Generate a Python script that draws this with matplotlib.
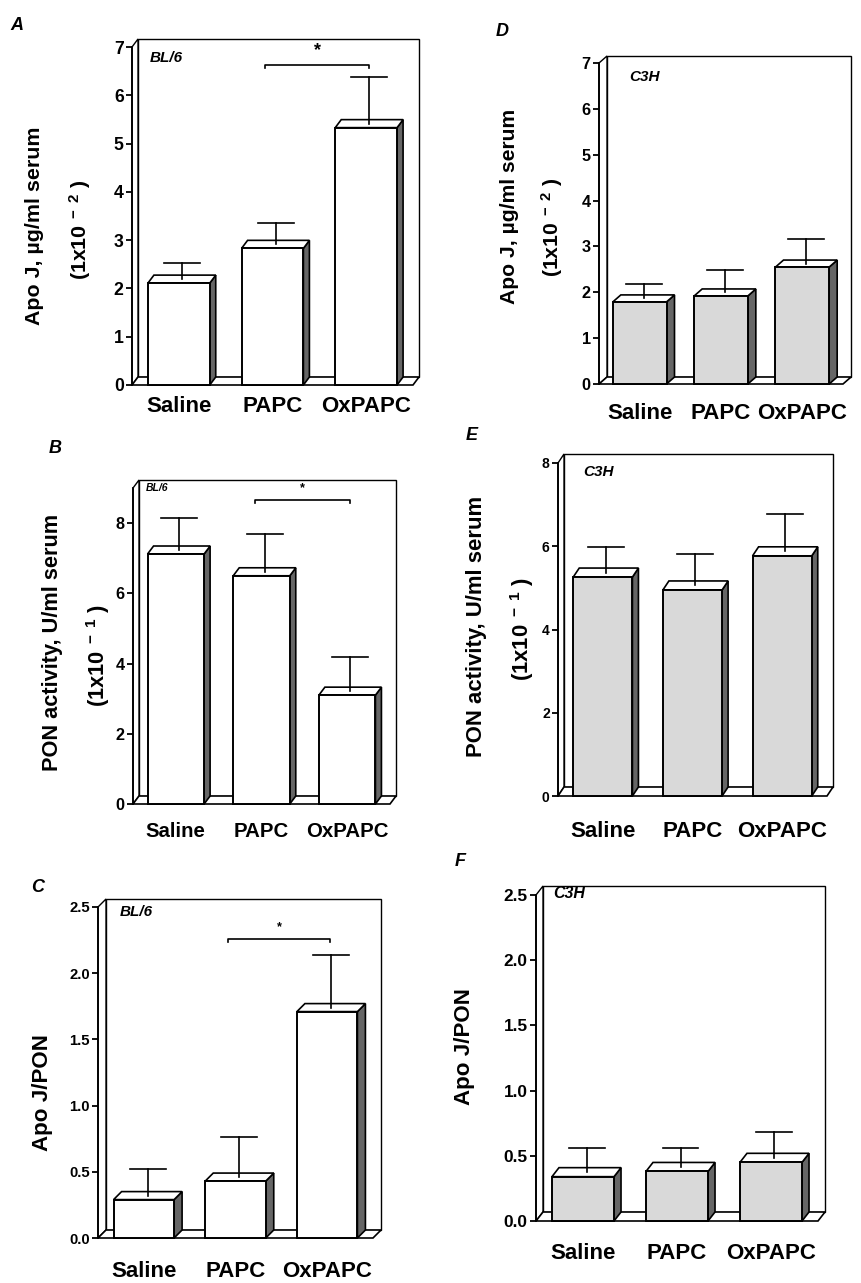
import matplotlib
matplotlib.use("Agg")
import matplotlib.pyplot as plt
from matplotlib.patches import Polygon, Rectangle
import numpy as np

plt.rcParams['font.family'] = ['Liberation Sans', 'DejaVu Sans']
plt.rcParams['font.weight'] = 'bold'
plt.rcParams['mathtext.fontset'] = 'custom'
plt.rcParams['mathtext.rm'] = 'Liberation Sans:bold'
plt.rcParams['mathtext.it'] = 'Liberation Sans:bold:italic'
plt.rcParams['mathtext.bf'] = 'Liberation Sans:bold'
plt.rcParams['mathtext.default'] = 'rm'

# ---------------- data ----------------
categories = ["Saline", "PAPC", "OxPAPC"]

apoj_bl6 = [2.11, 2.83, 5.33]
apoj_bl6_sem = [0.41, 0.53, 1.04]
pon_bl6 = [7.12, 6.50, 3.10]
pon_bl6_sem = [1.03, 1.19, 1.09]
ratio_bl6 = [0.29, 0.43, 1.71]
ratio_bl6_sem = [0.23, 0.33, 0.43]

apoj_c3h = [1.79, 1.92, 2.55]
apoj_c3h_sem = [0.39, 0.56, 0.61]
pon_c3h = [5.26, 4.95, 5.77]
pon_c3h_sem = [0.73, 0.86, 1.00]
ratio_c3h = [0.34, 0.38, 0.45]
ratio_c3h_sem = [0.22, 0.18, 0.23]

# significance brackets (between PAPC and OxPAPC)
sig_pair = (1, 2)
sig_height_apoj = 6.63
sig_height_pon = 8.66
sig_height_ratio = 2.26

W, H = 862, 1283
fig = plt.figure(figsize=(W / 100, H / 100), dpi=100)


def fx(x):
    return x / W


def fy(y):
    return 1 - y / H


def panel(x0, x1, y0, ytop, ymax, dx, dy, ticks, tick_fs, tick_fmt,
          vals, sems, front_color, strain, strain_xy, strain_fs,
          xlab_pad, xlab_fs, sig=None, star_fs=12):
    ax = fig.add_axes([fx(x0), fy(y0), (x1 - x0) / W, (y0 - ytop) / H])
    ax.set_xlim(-0.5, 2.5)
    ax.set_ylim(0, ymax)
    ax.patch.set_visible(False)
    for s in ['top', 'right', 'bottom']:
        ax.spines[s].set_visible(False)
    ax.spines['left'].set_bounds(0, ymax)
    ax.spines['left'].set_linewidth(1.3)
    ax.spines['left'].set_zorder(6)
    ax.set_yticks(ticks)
    ax.set_yticklabels([tick_fmt.format(t) for t in ticks], fontsize=tick_fs,
                       fontweight='bold')
    ax.tick_params(axis='y', direction='out', length=4, width=1.3, pad=2)
    ax.set_xticks(range(len(categories)))
    ax.set_xticklabels(categories, fontsize=xlab_fs, fontweight='bold')
    ax.tick_params(axis='x', length=0, pad=xlab_pad)

    ddx = dx * 3.0 / (x1 - x0)
    ddy = dy * ymax / (y0 - ytop)
    L, R = -0.5, 2.5
    lw = 1.2
    # back wall
    ax.add_patch(Rectangle((L + ddx, ddy), R - L, ymax, facecolor='white',
                           edgecolor='black', lw=1.0, clip_on=False, zorder=1))
    # left side wall
    ax.add_patch(Polygon([(L, 0), (L, ymax), (L + ddx, ymax + ddy), (L + ddx, ddy)],
                         closed=True, facecolor='white', edgecolor='black',
                         lw=1.0, clip_on=False, zorder=1.5))
    # floor
    ax.add_patch(Polygon([(L, 0), (R, 0), (R + ddx, ddy), (L + ddx, ddy)],
                         closed=True, facecolor='white', edgecolor='black',
                         lw=lw, clip_on=False, zorder=2))
    w = 0.66
    capw = 18 * 3.0 / (x1 - x0)
    for i, (v, e) in enumerate(zip(vals, sems)):
        xl, xr = i - w / 2, i + w / 2
        ax.add_patch(Polygon([(xr, 0), (xr + ddx, ddy), (xr + ddx, v + ddy), (xr, v)],
                             closed=True, facecolor='#666666', edgecolor='black',
                             lw=lw, clip_on=False, zorder=3))
        ax.add_patch(Polygon([(xl, v), (xr, v), (xr + ddx, v + ddy), (xl + ddx, v + ddy)],
                             closed=True, facecolor='white', edgecolor='black',
                             lw=lw, clip_on=False, zorder=3))
        ax.add_patch(Rectangle((xl, 0), w, v, facecolor=front_color,
                               edgecolor='black', lw=1.4, clip_on=False, zorder=3.5))
        xc = i + ddx / 2
        ax.plot([xc, xc], [v + ddy / 2, v + e], color='black', lw=lw,
                clip_on=False, zorder=4)
        ax.plot([xc - capw, xc + capw], [v + e, v + e], color='black', lw=lw,
                clip_on=False, zorder=4)
    if sig is not None:
        (a, b), hgt = sig
        tk = 3 * ymax / (y0 - ytop)
        ax.plot([a - 0.08, a - 0.08, b + 0.03, b + 0.03], [hgt - tk, hgt, hgt, hgt - tk],
                color='black', lw=lw, clip_on=False, zorder=4)
        ax.text((a + b) / 2 - 0.02, hgt + 6 * ymax / (y0 - ytop), '*', ha='center',
                va='bottom', fontsize=star_fs, fontweight='bold')
    fig.text(fx(strain_xy[0]), fy(strain_xy[1]), strain, ha='left', va='center',
             fontsize=strain_fs, fontweight='bold', fontstyle='italic')
    return ax


# Panel A
panel(132, 413, 385, 47, 7, 6, 8, range(0, 8), 12.7, '{:d}',
      apoj_bl6, apoj_bl6_sem, 'white', 'BL/6', (150, 58), 11,
      8, 16, sig=(sig_pair, sig_height_apoj), star_fs=13)
# Panel D
panel(599, 843, 384, 63, 7, 8, 7, range(0, 8), 11.7, '{:d}',
      apoj_c3h, apoj_c3h_sem, '#d9d9d9', 'C3H', (629, 77), 11,
      13.5, 16)
# Panel B
panel(133, 390, 804, 488, 9, 6, 8, range(0, 9, 2), 11.7, '{:d}',
      pon_bl6, pon_bl6_sem, 'white', 'BL/6', (146, 488), 7.5,
      13, 14.7, sig=(sig_pair, sig_height_pon), star_fs=9)
# Panel E
panel(558, 827, 796, 463, 8, 6, 9, range(0, 9, 2), 10, '{:d}',
      pon_c3h, pon_c3h_sem, '#d9d9d9', 'C3H', (583, 472), 11,
      18, 16)
# Panel C
panel(98, 373, 1238, 907, 2.5, 8, 8, np.arange(0, 2.51, 0.5), 10.7, '{:.1f}',
      ratio_bl6, ratio_bl6_sem, 'white', 'BL/6', (120, 912), 11,
      16.5, 16, sig=(sig_pair, sig_height_ratio), star_fs=9)
# Panel F
panel(536, 818, 1221, 895, 2.5, 7, 9, np.arange(0, 2.51, 0.5), 12.4, '{:.1f}',
      ratio_c3h, ratio_c3h_sem, '#d9d9d9', 'C3H', (553, 894), 11.5,
      15.8, 16)

# y-axis labels
sup2 = r'(1x10$^{\ -\ 2}$ )'
sup1 = r'(1x10$^{\ -\ 1}$ )'
ylab = [
    (35, 226, 'Apo J, µg/ml serum', 15.4), (80, 230, sup2, 15.4),
    (510, 206, 'Apo J, µg/ml serum', 15.2), (552, 227, sup2, 15.2),
    (53, 642, 'PON activity, U/ml serum', 15.7), (98, 656, sup1, 15.7),
    (477, 626, 'PON activity, U/ml serum', 15.9), (522, 629, sup1, 15.9),
    (43, 1093, 'Apo J/PON', 16.1),
    (465, 1047, 'Apo J/PON', 16.1),
]
for x, y, t, fs in ylab:
    fig.text(fx(x), fy(y), t, rotation=90, ha='center', va='center',
             fontsize=fs, fontweight='bold')

# panel letters
for x, y, t in [(17, 25, 'A'), (502, 32, 'D'), (55, 448, 'B'), (472, 435, 'E'),
                (38, 888, 'C'), (460, 862, 'F')]:
    fig.text(fx(x), fy(y), t, ha='center', va='center', fontsize=13,
             fontweight='bold', fontstyle='italic')

fig.savefig('out.png', dpi=100)
